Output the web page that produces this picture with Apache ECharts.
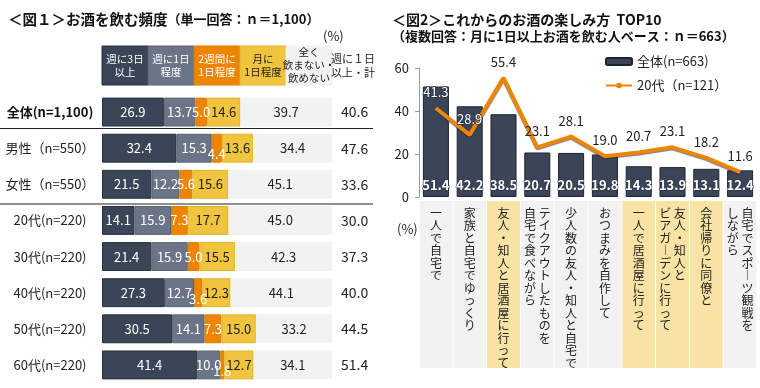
<!DOCTYPE html>
<html><head><meta charset="utf-8">
<script src="https://cdn.jsdelivr.net/npm/echarts@6/dist/echarts.min.js"></script>
<style>html,body{margin:0;padding:0;background:#fff}#c{width:760px;height:388px}</style>
</head><body><div id="c"></div>
<script>
// ---- Figure 1 data ----
const rowLabels = ['全体(n=1,100)', '男性（n=550）', '女性（n=550）', '20代(n=220)', '30代(n=220)', '40代(n=220)', '50代(n=220)', '60代(n=220)'];
const freqNames = ['週に3日\n以上', '週に1日\n程度', '2週間に\n1日程度', '月に\n1日程度', '全く\n飲まない・\n飲めない'];
const week3 = [26.9, 32.4, 21.5, 14.1, 21.4, 27.3, 30.5, 41.4];
const week1 = [13.7, 15.3, 12.2, 15.9, 15.9, 12.7, 14.1, 10.0];
const biweek = [5.0, 4.4, 5.6, 7.3, 5.0, 3.6, 7.3, 1.8];
const month1 = [14.6, 13.6, 15.6, 17.7, 15.5, 12.3, 15.0, 12.7];
const never = [39.7, 34.4, 45.1, 45.0, 42.3, 44.1, 33.2, 34.1];
const weeklyTotal = ['40.6', '47.6', '33.6', '30.0', '37.3', '40.0', '44.5', '51.4'];
const totalHeader = '週に１日\n以上・計';

// ---- Figure 2 data ----
const categories = ['一人で自宅で', '家族と自宅でゆっくり', '友人・知人と居酒屋に行って', 'テイクアウトしたものを\n自宅で食べながら', '少人数の友人・知人と自宅で', 'おつまみを自作して', '一人で居酒屋に行って', '友人・知人と\nビアガーデンに行って', '会社帰りに同僚と', '自宅でスポーツ観戦を\nしながら'];
const allValues = [51.4, 42.2, 38.5, 20.7, 20.5, 19.8, 14.3, 13.9, 13.1, 12.4];
const twentiesValues = [41.3, 28.9, 55.4, 23.1, 28.1, 19.0, 20.7, 23.1, 18.2, 11.6];
const highlighted = [false, false, true, false, false, false, true, true, true, false];
const yTicks = [0, 20, 40, 60];
const seriesNames = ['全体(n=663)', '20代（n=121）'];

const FONT = '"Noto Sans CJK JP", "Noto Sans", sans-serif';
const segColors = ['#3a4558', '#6b7587', '#ee8500', '#f0c43f', '#f2f2f2'];
const segBorders = ['#27303e', '#5a6476', '#e07a00', '#e2b52a', '#f2f2f2'];
const segText = ['#fff', '#fff', '#fff', '#222', '#222'];
const segData = [week3, week1, biweek, month1, never];

const G1 = {left: 102, width: 230, top: 94, height: 289};

function vertical(s) {
  const cols = s.split('\n').reverse();
  const n = Math.max(...cols.map(c => c.length));
  const lines = [];
  for (let i = 0; i < n; i++) {
    lines.push(cols.map(c => {
      let ch = c[i] || '　';
      if (ch === 'ー') ch = '︱';
      return ch;
    }).join(' '));
  }
  return lines.join('\n');
}

const chart = echarts.init(document.getElementById('c'), null, {renderer: 'canvas'});

const graphics = [];
freqNames.forEach((t, i) => {
  const x0 = G1.left + G1.width * i / 5;
  graphics.push({type: 'rect', shape: {x: x0, y: 46, width: G1.width / 5, height: 39},
    style: {fill: segColors[i], stroke: segBorders[i], lineWidth: 1}});
  graphics.push({type: 'text', x: x0 + G1.width / 10, y: 65.5,
    style: {text: t, fill: segText[i], font: '10.5px ' + FONT, align: 'center', verticalAlign: 'middle', lineHeight: 13}});
});
graphics.push({type: 'text', x: 353, y: 65.5,
  style: {text: totalHeader, fill: '#222', font: '11px ' + FONT, align: 'center', verticalAlign: 'middle', lineHeight: 14}});
[128.5, 204].forEach(y => graphics.push({type: 'line', shape: {x1: 0, y1: y, x2: 373, y2: y}, style: {stroke: '#222', lineWidth: 1.2}}));

const series = [];
segData.forEach((arr, i) => {
  series.push({
    type: 'bar', stack: 'f', xAxisIndex: 0, yAxisIndex: 0, barCategoryGap: '20%',
    data: arr.map(v => ({value: v, label: {offset: v < 5 ? [0, 6] : [0, 0]}})),
    itemStyle: {color: segColors[i], borderColor: segBorders[i], borderWidth: 1},
    label: {show: true, position: 'inside', color: segText[i], fontSize: 13, fontFamily: FONT,
      formatter: p => p.value.toFixed(1)},
    z: 2
  });
});

series.push({
  name: seriesNames[0], type: 'bar', xAxisIndex: 2, yAxisIndex: 3, barCategoryGap: '23%',
  data: allValues,
  itemStyle: {color: '#3b4557', borderColor: '#1c2535', borderWidth: 1},
  label: {show: true, position: 'insideBottom', distance: 5, color: '#fff', fontWeight: 'bold', fontSize: 13, fontFamily: FONT,
    textBorderColor: '#2a3344', textBorderWidth: 1, formatter: p => p.value.toFixed(1)},
  z: 2
});
series.push({
  name: seriesNames[1], type: 'line', xAxisIndex: 2, yAxisIndex: 3,
  data: twentiesValues.map((v, i) => {
    const inside = allValues[i] > v + 6;
    return {value: v, label: {color: inside ? '#fff' : '#222', textBorderColor: inside ? '#2a3344' : 'transparent', textBorderWidth: inside ? 1.5 : 0}};
  }),
  symbol: 'circle', symbolSize: 1, showSymbol: true,
  lineStyle: {color: '#ee8500', width: 4, shadowColor: 'rgba(20,30,70,0.6)', shadowBlur: 1, shadowOffsetY: 1},
  itemStyle: {color: '#ee8500'},
  label: {show: true, position: 'top', distance: 9, fontSize: 13, fontFamily: FONT, formatter: p => p.value.toFixed(1)},
  z: 3
});
series.push({
  type: 'bar', xAxisIndex: 3, yAxisIndex: 4, barCategoryGap: '3%', silent: true,
  data: categories.map((c, i) => ({value: 1, itemStyle: {color: highlighted[i] ? '#f8e2a4' : '#f2f2f2'}})),
  label: {show: true, position: 'insideTop', distance: 6, color: '#222', fontSize: 12, lineHeight: 12.5, fontFamily: FONT,
    formatter: p => vertical(categories[p.dataIndex])}
});

chart.setOption({
  animation: false,
  textStyle: {fontFamily: FONT},
  title: [
    {left: 3, top: 7, text: '{b|＜図１＞お酒を飲む頻度}{n|（単一回答：ｎ＝1,100）}',
      textStyle: {rich: {b: {fontSize: 14.5, fontWeight: 'bold', color: '#111', fontFamily: FONT}, n: {fontSize: 13, color: '#111', fontFamily: FONT}}}},
    {left: 318, top: 25, text: '(%)', textStyle: {fontSize: 13, fontWeight: 'normal', color: '#222', fontFamily: FONT}},
    {left: 387, top: 6, text: '{b|＜図2＞これからのお酒の楽しみ方  TOP10}\n{n|（複数回答：月に1日以上お酒を飲む人ベース：ｎ＝663）}',
      textStyle: {rich: {b: {fontSize: 14, fontWeight: 'bold', color: '#111', fontFamily: FONT, lineHeight: 17}, n: {fontSize: 13, color: '#111', fontFamily: FONT, lineHeight: 17}}}},
    {left: 392, top: 218, text: '(%)', textStyle: {fontSize: 13, fontWeight: 'normal', color: '#222', fontFamily: FONT}}
  ],
  legend: {
    data: seriesNames, orient: 'vertical', left: 600, top: 50, itemWidth: 26, itemHeight: 7, itemGap: 11,
    textStyle: {fontSize: 13, color: '#222', fontFamily: FONT}
  },
  grid: [
    {left: G1.left, width: G1.width, top: G1.top, height: G1.height},
    {left: 419, right: 3, top: 68, height: 129},
    {left: 419, right: 3, top: 201, height: 167}
  ],
  xAxis: [
    {type: 'value', gridIndex: 0, min: 0, max: 100, show: false},
    {type: 'value', gridIndex: 0, min: 0, max: 100, show: false},
    {type: 'category', gridIndex: 1, data: categories, axisLine: {show: false}, axisTick: {show: false}, axisLabel: {show: false}},
    {type: 'category', gridIndex: 2, data: categories, show: false}
  ],
  yAxis: [
    {type: 'category', gridIndex: 0, inverse: true, data: rowLabels, axisLine: {show: false}, axisTick: {show: false},
      axisLabel: {margin: 52, align: 'center', fontSize: 13, color: '#222', fontFamily: FONT,
        formatter: (v, i) => i === 0 ? '{b|' + v + '}' : v, rich: {b: {fontWeight: 'bold', fontSize: 13, color: '#111', fontFamily: FONT}}}},
    {type: 'category', gridIndex: 0, inverse: true, position: 'right', data: weeklyTotal, axisLine: {show: false}, axisTick: {show: false},
      axisLabel: {margin: 9, fontSize: 14, color: '#222', fontFamily: FONT}},
    {type: 'value', gridIndex: 0, show: false},
    {type: 'value', gridIndex: 1, min: yTicks[0], max: yTicks[yTicks.length - 1], interval: yTicks[1] - yTicks[0],
      axisLine: {show: true, lineStyle: {color: '#999'}}, axisTick: {show: true, length: 4, lineStyle: {color: '#999'}},
      splitLine: {show: false}, axisLabel: {fontSize: 13, color: '#222', margin: 10, fontFamily: FONT}},
    {type: 'value', gridIndex: 2, min: 0, max: 1, show: false}
  ],
  graphic: graphics,
  series: series
});
</script></body></html>
